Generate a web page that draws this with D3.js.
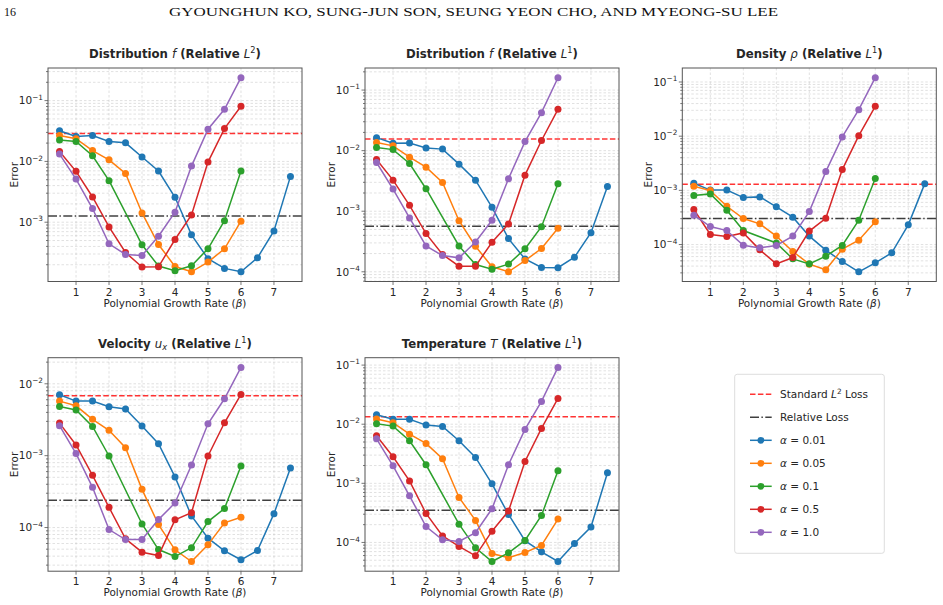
<!DOCTYPE html>
<meta charset="utf-8">
<style>
  body { margin: 0; background: #fff; }
  text { font-family: "DejaVu Sans", sans-serif; fill: #262626; }
  .grid line { stroke: #b8b8b8; stroke-opacity: 0.6; stroke-width: 0.7; stroke-dasharray: 2.5,2; }
  .spine { fill: none; stroke: #555; stroke-width: 1; }
  .tick { stroke: #555; stroke-width: 0.8; }
  .ticklabel { font-size: 10.5px; }
  .series path { fill: none; stroke-width: 1.5; }
  .header { font-family: "Liberation Serif", "DejaVu Serif", serif; fill: #111; }
</style>
<svg width="943" height="605"></svg>
<script src="https://cdn.jsdelivr.net/npm/d3@7/dist/d3.min.js"></script>
<script>
  // beta values on the x axis
  const betaFull  = [0.5, 1, 1.5, 2, 2.5, 3, 3.5, 4, 4.5, 5, 5.5, 6, 6.5, 7, 7.5];
  const betaShort = [0.5, 1, 1.5, 2, 2.5, 3, 3.5, 4, 4.5, 5, 5.5, 6];
  const betaGreen = [0.5, 1, 1.5, 2, 3, 3.5, 4, 4.5, 5, 5.5, 6];   // no 2.5 run for alpha = 0.1

  const alphas = ["0.01", "0.05", "0.1", "0.5", "1.0"];
  const colors = ["#1f77b4", "#ff7f0e", "#2ca02c", "#d62728", "#9467bd"];
  const xTicks = [1, 2, 3, 4, 5, 6, 7];

  // Distribution f, relative L2
  const fL2_a001 = [0.0319, 0.0257, 0.0267, 0.0213, 0.0202, 0.0118, 0.00695, 0.00257, 0.00062, 0.000251, 0.000174, 0.000153, 0.00026, 0.00072, 0.00567];
  const fL2_a005 = [0.0267, 0.0236, 0.0151, 0.0106, 0.00635, 0.00142, 0.00043, 0.000187, 0.000153, 0.000221, 0.000366, 0.00104];
  const fL2_a01  = [0.0224, 0.0213, 0.0124, 0.00482, 0.000425, 0.00019, 0.000159, 0.000192, 0.000366, 0.00106, 0.00695];
  const fL2_a05  = [0.0146, 0.00686, 0.0026, 0.000837, 0.000318, 0.000183, 0.000185, 0.00052, 0.00132, 0.00975, 0.0347, 0.0807];
  const fL2_a1   = [0.0132, 0.00513, 0.00168, 0.000442, 0.000295, 0.000284, 0.000589, 0.00146, 0.00838, 0.0339, 0.0721, 0.238];
  const fL2_ref  = [0.0288, 0.00127];   // standard L2 loss, relative loss

  // Distribution f, relative L1
  const fL1_a001 = [0.0164, 0.0133, 0.0134, 0.0111, 0.0106, 0.00598, 0.00326, 0.00116, 0.000353, 0.000163, 0.000118, 0.000117, 0.000174, 0.000443, 0.00256];
  const fL1_a005 = [0.0136, 0.012, 0.0078, 0.00533, 0.00299, 0.000698, 0.000264, 0.000121, 0.0001, 0.000153, 0.000242, 0.000522];
  const fL1_a01  = [0.0113, 0.0104, 0.00614, 0.00235, 0.000267, 0.000132, 0.00011, 0.000134, 0.000239, 0.000556, 0.00284];
  const fL1_a05  = [0.00714, 0.00326, 0.00125, 0.000427, 0.000193, 0.000124, 0.000124, 0.000308, 0.000615, 0.00394, 0.0147, 0.0481];
  const fL1_a1   = [0.00637, 0.00232, 0.000773, 0.000267, 0.000185, 0.00017, 0.000311, 0.000708, 0.00343, 0.0141, 0.0424, 0.16];
  const fL1_ref  = [0.0156, 0.000564];

  // Density rho, relative L1
  const rho_a001 = [0.00135, 0.00101, 0.00101, 0.000736, 0.000758, 0.000496, 0.00032, 0.000143, 7.87e-5, 4.86e-5, 3.14e-5, 4.6e-5, 7.03e-5, 0.000231, 0.00133];
  const rho_a005 = [0.00119, 0.00099, 0.000509, 0.000302, 0.000241, 0.000143, 7.44e-5, 4.35e-5, 3.42e-5, 8.22e-5, 0.00012, 0.000262];
  const rho_a01  = [0.000802, 0.000861, 0.00043, 0.000181, 0.000107, 5.44e-5, 4.4e-5, 6.1e-5, 9.6e-5, 0.000281, 0.00165];
  const rho_a05  = [0.000443, 0.000153, 0.000141, 0.000164, 7.98e-5, 4.4e-5, 5.76e-5, 0.000177, 0.000306, 0.00242, 0.0102, 0.0356];
  const rho_a1   = [0.000348, 0.000215, 0.000181, 9.72e-5, 8.68e-5, 9.6e-5, 0.000143, 0.000406, 0.00222, 0.00969, 0.0309, 0.12];
  const rho_ref  = [0.0013, 0.000302];

  // Velocity u_x, relative L1
  const ux_a001 = [0.00704, 0.00574, 0.00574, 0.0048, 0.00445, 0.00258, 0.00147, 0.000506, 0.000145, 7.11e-5, 4.74e-5, 3.56e-5, 4.8e-5, 0.000156, 0.000675];
  const ux_a005 = [0.00574, 0.00494, 0.0032, 0.00225, 0.00129, 0.00034, 0.00011, 4.9e-5, 3.37e-5, 5.74e-5, 0.000116, 0.000139];
  const ux_a01  = [0.00484, 0.00431, 0.00255, 0.000989, 0.000112, 4.94e-5, 3.95e-5, 5.23e-5, 0.000121, 0.000184, 0.000718];
  const ux_a05  = [0.00284, 0.00141, 0.000533, 0.000191, 6.96e-5, 4.54e-5, 4.08e-5, 0.000128, 0.000161, 0.000989, 0.00287, 0.00711];
  const ux_a1   = [0.00261, 0.00107, 0.000363, 9.37e-5, 6.81e-5, 6.81e-5, 0.000129, 0.00022, 0.000741, 0.00278, 0.00619, 0.0169];
  const ux_ref  = [0.00681, 0.00024];

  // Temperature T, relative L1
  const T_a001 = [0.0145, 0.0121, 0.0121, 0.00966, 0.00917, 0.00525, 0.00274, 0.00098, 0.000297, 0.000107, 6.93e-5, 4.76e-5, 9.6e-5, 0.000182, 0.00151];
  const T_a005 = [0.0122, 0.0106, 0.00679, 0.00473, 0.0026, 0.000577, 0.000236, 6.5e-5, 5.5e-5, 6.76e-5, 8.88e-5, 0.000248];
  const T_a01  = [0.0102, 0.00929, 0.00525, 0.00206, 0.000204, 8.11e-5, 4.76e-5, 6.68e-5, 0.000108, 0.000286, 0.00163];
  const T_a05  = [0.00637, 0.00281, 0.0011, 0.000309, 0.000129, 8.55e-5, 5.94e-5, 0.000155, 0.000339, 0.00234, 0.00848, 0.0273];
  const T_a1   = [0.00567, 0.00198, 0.000615, 0.000186, 0.000111, 0.000104, 0.000146, 0.000371, 0.00206, 0.00815, 0.0243, 0.0914];
  const T_ref  = [0.0134, 0.000352];

  const panels = [
    { title: [["Distribution ", "b"], ["f", "i"], [" (Relative ", "b"], ["L", "i"], ["2", "sup"], [")", "b"]],
      series: [fL2_a001, fL2_a005, fL2_a01, fL2_a05, fL2_a1], ref: fL2_ref },
    { title: [["Distribution ", "b"], ["f", "i"], [" (Relative ", "b"], ["L", "i"], ["1", "sup"], [")", "b"]],
      series: [fL1_a001, fL1_a005, fL1_a01, fL1_a05, fL1_a1], ref: fL1_ref },
    { title: [["Density ", "b"], ["ρ", "i"], [" (Relative ", "b"], ["L", "i"], ["1", "sup"], [")", "b"]],
      series: [rho_a001, rho_a005, rho_a01, rho_a05, rho_a1], ref: rho_ref },
    { title: [["Velocity ", "b"], ["u", "i"], ["x", "sub"], [" (Relative ", "b"], ["L", "i"], ["1", "sup"], [")", "b"]],
      series: [ux_a001, ux_a005, ux_a01, ux_a05, ux_a1], ref: ux_ref },
    { title: [["Temperature ", "b"], ["T", "i"], [" (Relative ", "b"], ["L", "i"], ["1", "sup"], [")", "b"]],
      series: [T_a001, T_a005, T_a01, T_a05, T_a1], ref: T_ref }
  ];
  const xLabelParts = [["Polynomial Growth Rate (", "n"], ["β", "i"], [")", "n"]];

  // layout of the five axes boxes
  const boxes = [
    {x: 48, y: 68}, {x: 365, y: 68}, {x: 682.3, y: 68},
    {x: 48, y: 357.7}, {x: 365, y: 357.7}
  ];
  const bw = 254, bh = 213.5;

  const svg = d3.select("svg");

  // rich text helper: parts are [text, style]
  function rich(sel, parts, size) {
    sel.selectAll("tspan").remove();
    sel.attr("font-size", size);
    let shift = 0;
    parts.forEach(([t, s]) => {
      const ts = sel.append("tspan").text(t);
      let target = 0;
      if (s === "b") ts.attr("font-weight", "bold");
      if (s === "i") ts.attr("font-style", "italic");
      if (s === "sup") { ts.attr("font-size", size * 0.7); target = -size * 0.42; }
      if (s === "sub") { ts.attr("font-size", size * 0.7); target = size * 0.2; ts.attr("font-style", "italic"); }
      if (target !== shift) { ts.attr("dy", target - shift); shift = target; }
    });
  }

  // pick a font size so that a sample string gets the width seen in the figure
  function fitSize(parts, width) {
    const probe = svg.append("text");
    rich(probe, parts, 10);
    const w = probe.node().getBBox().width;
    probe.remove();
    return 10 * width / w;
  }
  const titleSize = fitSize(panels[0].title, 172);
  const labelSize = fitSize(xLabelParts, 143);

  // page header
  svg.append("text").attr("class", "header").attr("x", 4).attr("y", 16)
    .attr("font-size", 12).text("16");
  svg.append("text").attr("class", "header").attr("x", 169).attr("y", 16)
    .attr("font-size", 12).attr("textLength", 609).attr("lengthAdjust", "spacingAndGlyphs")
    .text("GYOUNGHUN KO, SUNG-JUN SON, SEUNG YEON CHO, AND MYEONG-SU LEE");

  const superMinus = k => (k < 0 ? "\u2212" + (-k) : String(k));

  panels.forEach((p, i) => {
    const b = boxes[i];
    const g = svg.append("g").attr("transform", `translate(${b.x},${b.y})`);

    const all = p.series.flat();
    const lo = Math.log10(d3.min(all)), hi = Math.log10(d3.max(all));
    const pad = (hi - lo) * 0.05;

    const x = d3.scaleLinear().domain([0.15, 7.85]).range([0, bw]);
    const y = d3.scaleLog().domain([Math.pow(10, lo - pad), Math.pow(10, hi + pad)]).range([bh, 0]);
    const [d0, d1] = y.domain();

    const majors = [], minors = [];
    for (let k = Math.floor(Math.log10(d0)); k <= Math.ceil(Math.log10(d1)); k++) {
      for (let m = 1; m <= 9; m++) {
        const v = m * Math.pow(10, k);
        if (v < d0 || v > d1) continue;
        (m === 1 ? majors : minors).push({v, k});
      }
    }

    // grid
    const grid = g.append("g").attr("class", "grid");
    grid.selectAll(".gx").data(xTicks).enter().append("line")
      .attr("x1", d => x(d)).attr("x2", d => x(d)).attr("y1", 0).attr("y2", bh);
    grid.selectAll(".gy").data(majors.concat(minors)).enter().append("line")
      .attr("x1", 0).attr("x2", bw).attr("y1", d => y(d.v)).attr("y2", d => y(d.v));

    // reference lines
    g.append("line").attr("x1", 0).attr("x2", bw)
      .attr("y1", y(p.ref[0])).attr("y2", y(p.ref[0]))
      .attr("stroke", "#ff0000").attr("stroke-opacity", 0.8).attr("stroke-width", 1.5)
      .attr("stroke-dasharray", "5.5,2.4");
    g.append("line").attr("x1", 0).attr("x2", bw)
      .attr("y1", y(p.ref[1])).attr("y2", y(p.ref[1]))
      .attr("stroke", "#000").attr("stroke-opacity", 0.75).attr("stroke-width", 1.5)
      .attr("stroke-dasharray", "9,2.4,1.5,2.4");

    // series
    const line = d3.line().x(d => x(d[0])).y(d => y(d[1]));
    p.series.forEach((vals, s) => {
      const xs = s === 0 ? betaFull : (s === 2 ? betaGreen : betaShort);
      const pts = vals.map((v, j) => [xs[j], v]);
      const sg = g.append("g").attr("class", "series");
      sg.append("path").attr("d", line(pts)).attr("stroke", colors[s]);
      sg.selectAll("circle").data(pts).enter().append("circle")
        .attr("cx", d => x(d[0])).attr("cy", d => y(d[1])).attr("r", 3.5)
        .attr("fill", colors[s]);
    });

    // spines
    g.append("rect").attr("class", "spine").attr("width", bw).attr("height", bh);

    // x ticks
    xTicks.forEach(t => {
      g.append("line").attr("class", "tick").attr("x1", x(t)).attr("x2", x(t))
        .attr("y1", bh).attr("y2", bh + 3.5);
      g.append("text").attr("class", "ticklabel").attr("x", x(t)).attr("y", bh + 14)
        .attr("text-anchor", "middle").text(t);
    });

    // y ticks
    majors.forEach(d => {
      g.append("line").attr("class", "tick").attr("x1", -3.5).attr("x2", 0)
        .attr("y1", y(d.v)).attr("y2", y(d.v));
      const t = g.append("text").attr("class", "ticklabel").attr("x", -5).attr("y", y(d.v) + 3.8)
        .attr("text-anchor", "end");
      t.append("tspan").text("10");
      t.append("tspan").attr("font-size", 7.3).attr("dy", -4.6).text(superMinus(d.k));
    });
    minors.forEach(d => {
      g.append("line").attr("class", "tick").attr("x1", -2).attr("x2", 0)
        .attr("y1", y(d.v)).attr("y2", y(d.v)).attr("stroke-width", 0.6);
    });

    // labels
    const xl = g.append("text").attr("x", bw / 2).attr("y", bh + 25).attr("text-anchor", "middle");
    rich(xl, xLabelParts, labelSize);

    g.append("text").attr("transform", `translate(-30,${bh / 2}) rotate(-90)`)
      .attr("text-anchor", "middle").attr("font-size", labelSize).text("Error");

    const tt = g.append("text").attr("x", bw / 2).attr("y", -10).attr("text-anchor", "middle");
    rich(tt, p.title, titleSize);
  });

  // legend
  const lg = svg.append("g").attr("transform", "translate(734.7,374.3)");
  lg.append("rect").attr("width", 149.6).attr("height", 179).attr("rx", 2.5)
    .attr("fill", "#fff").attr("stroke", "#d9d9d9").attr("stroke-width", 0.9);

  const legendItems = [
    {kind: "dash", color: "#ff0000", text: [["Standard ", "n"], ["L", "i"], ["2", "sup"], [" Loss", "n"]]},
    {kind: "dashdot", color: "#000", text: [["Relative Loss", "n"]]}
  ].concat(alphas.map((a, i) => ({kind: "marker", color: colors[i], text: [["α", "i"], [" = " + a, "n"]]})));

  legendItems.forEach((it, i) => {
    const yy = 20 + i * 23;
    const row = lg.append("g").attr("transform", `translate(0,${yy})`);
    const ln = row.append("line").attr("x1", 15.3).attr("x2", 37).attr("stroke", it.color)
      .attr("stroke-width", 1.5);
    if (it.kind === "dash") ln.attr("stroke-dasharray", "5.5,2.4").attr("stroke-opacity", 0.8);
    if (it.kind === "dashdot") ln.attr("stroke-dasharray", "9,2.4,1.5,2.4").attr("stroke-opacity", 0.75);
    if (it.kind === "marker") row.append("circle").attr("cx", 26.2).attr("r", 3.4).attr("fill", it.color);
    const t = row.append("text").attr("x", 45.3).attr("y", 4);
    rich(t, it.text, 10.5);
  });
</script>
